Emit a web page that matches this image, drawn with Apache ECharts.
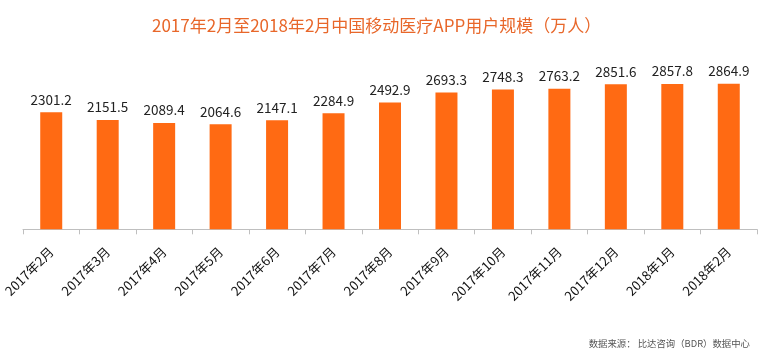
<!DOCTYPE html>
<html><head><meta charset="utf-8">
<script src="https://cdn.jsdelivr.net/npm/echarts@6/dist/echarts.min.js"></script>
<style>html,body{margin:0;padding:0;background:#fff}#c{width:770px;height:356px}</style>
</head><body><div id="c"></div>
<script>
const categories = ['2017年2月','2017年3月','2017年4月','2017年5月','2017年6月','2017年7月','2017年8月','2017年9月','2017年10月','2017年11月','2017年12月','2018年1月','2018年2月'];
const users = [2301.2, 2151.5, 2089.4, 2064.6, 2147.1, 2284.9, 2492.9, 2693.3, 2748.3, 2763.2, 2851.6, 2857.8, 2864.9];
const titleText = '2017年2月至2018年2月中国移动医疗APP用户规模（万人）';
const sourceText = '数据来源： 比达咨询（BDR）数据中心';

const chart = echarts.init(document.getElementById('c'), null, {renderer: 'canvas'});
const FONT = '"Noto Sans CJK SC", "Noto Sans", sans-serif';
chart.setOption({
  animation: false,
  backgroundColor: '#ffffff',
  title: {
    text: titleText,
    left: 147, top: 12,
    textStyle: {color: '#E8672A', fontSize: 17, fontWeight: 'normal', fontFamily: FONT}
  },
  graphic: [{
    type: 'text', right: 20, top: 339,
    style: {text: sourceText, fill: '#555555', fontSize: 9.4, fontFamily: FONT}
  }],
  grid: {left: 23, right: 13, top: 76.8, bottom: 126.7, containLabel: false},
  xAxis: {
    type: 'category', data: categories,
    axisLine: {lineStyle: {color: '#BFBFBF', width: 1}},
    axisTick: {show: true, length: 5, lineStyle: {color: '#BFBFBF'}},
    axisLabel: {rotate: 45, margin: 20, color: '#111111', fontSize: 13, fontFamily: FONT, interval: 0}
  },
  yAxis: {
    type: 'value', min: 0, max: 3000, show: false,
    splitLine: {show: false}
  },
  series: [{
    type: 'bar', data: users, barWidth: 22,
    itemStyle: {color: '#FF6A13'},
    label: {show: true, position: 'top', distance: 6, color: '#222222', fontSize: 13.5, fontFamily: FONT,
      formatter: p => p.value.toFixed(1)}
  }]
});
</script></body></html>
